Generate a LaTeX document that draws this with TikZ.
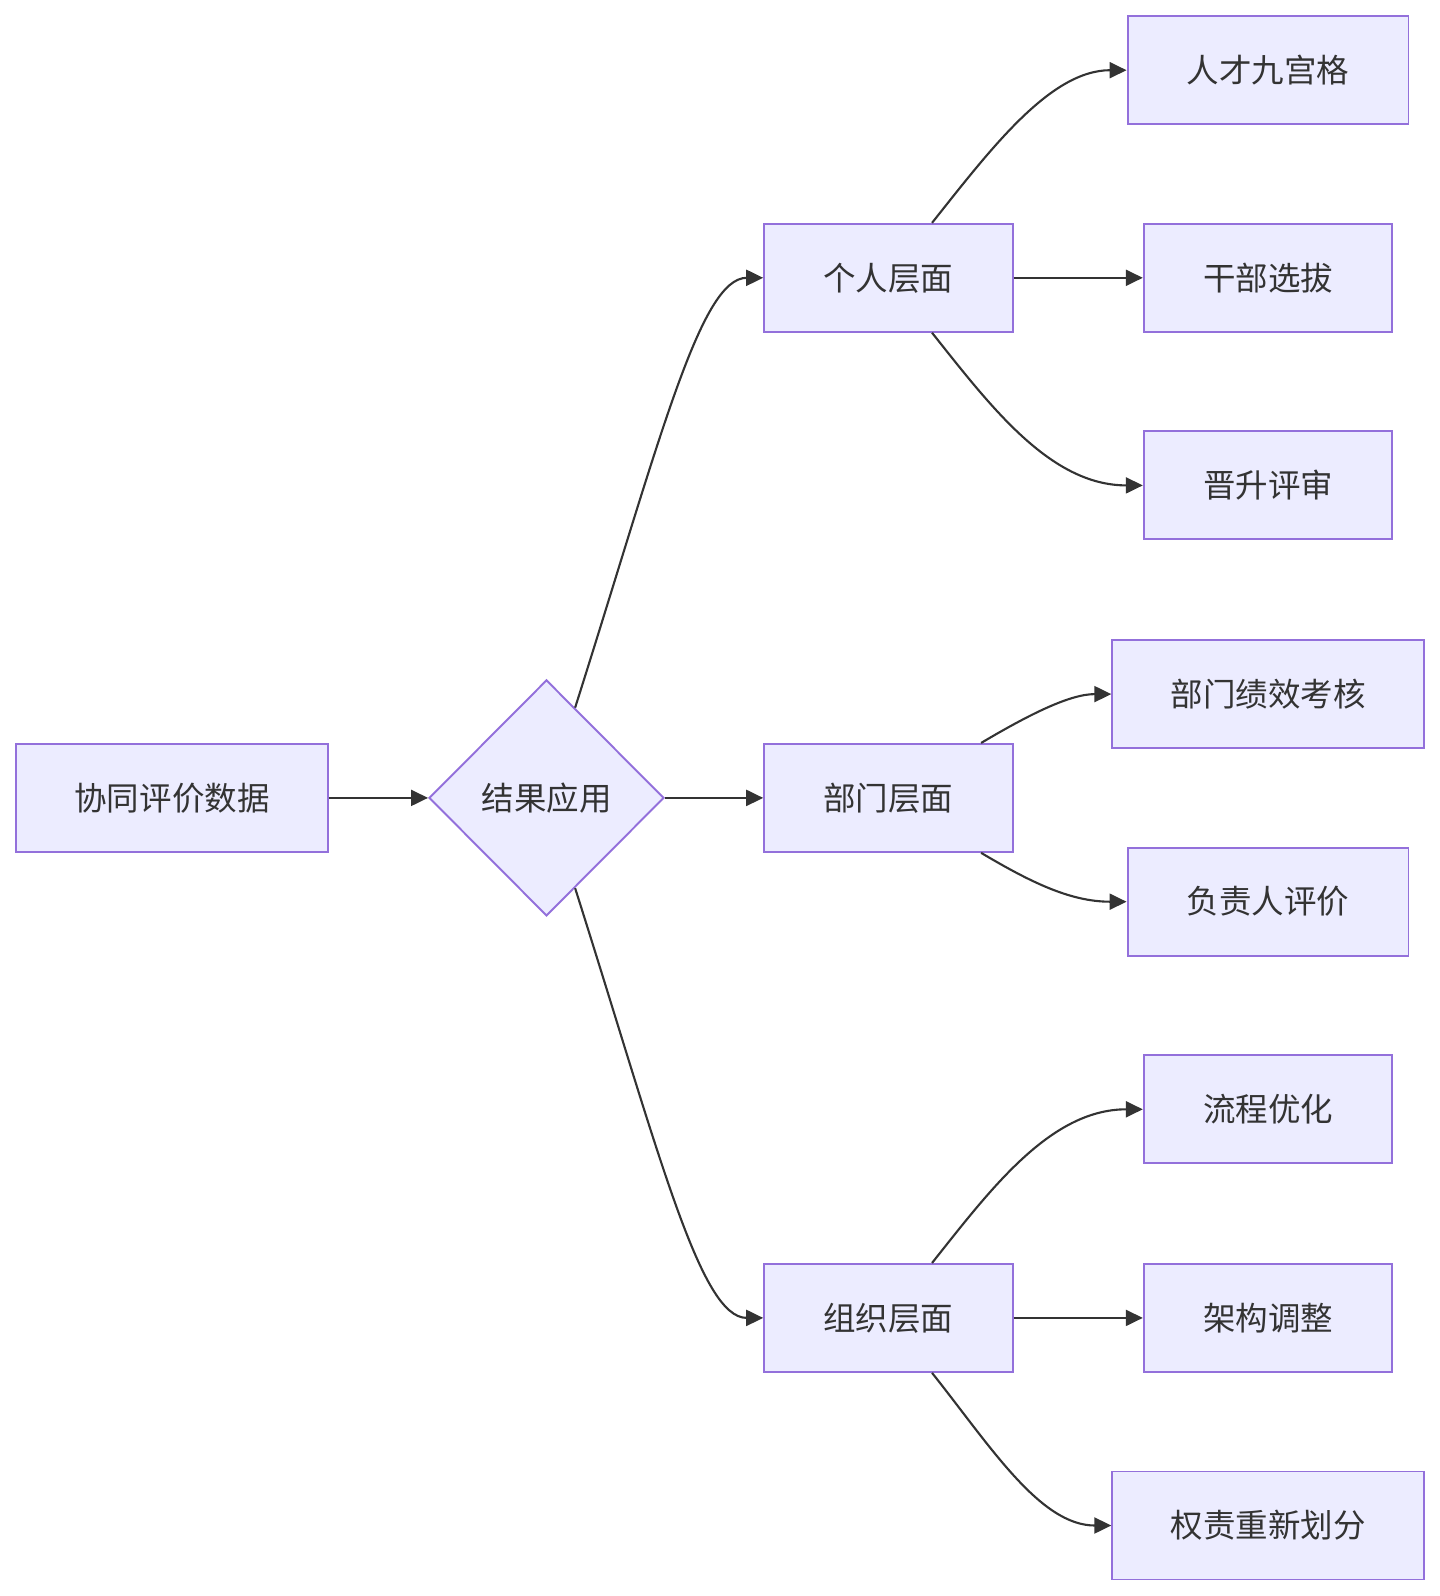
\documentclass[tikz,border=0pt]{standalone}
\usepackage{fontspec}
\newfontfamily\cjk{Noto Sans CJK SC}
\usepackage{tikz}
\usetikzlibrary{arrows.meta,shapes.geometric}
\definecolor{nodefill}{RGB}{236,236,255}
\definecolor{nodeborder}{RGB}{147,112,219}
\definecolor{linkgray}{RGB}{51,51,51}

\begin{document}
\begin{tikzpicture}[x=0.02cm,y=-0.02cm,
  box/.style={draw=nodeborder,fill=nodefill,line width=1.1pt,minimum height=2.16cm,
    inner sep=0pt,text=linkgray,font=\cjk\fontsize{18.5pt}{22pt}\selectfont},
  choice/.style={box,diamond,minimum width=4.7cm,minimum height=4.72cm},
  link/.style={draw=linkgray,line width=1.2pt,-{Triangle[length=0.34cm,width=0.32cm]}}]
  \useasboundingbox (0,0) rectangle (1440,1596);
  % source and decision
  \node[box,minimum width=6.23cm] (data) at (172,797.9) {协同评价数据};
  \node[choice] (apply) at (546.5,797.9) {结果应用};
  % three levels
  \node[box,minimum width=4.97cm] (person) at (888.4,277.8) {个人层面};
  \node[box,minimum width=4.97cm] (dept) at (888.4,797.9) {部门层面};
  \node[box,minimum width=4.97cm] (org) at (888.4,1317.9) {组织层面};
  % outcomes
  \node[box,minimum width=5.62cm] (grid) at (1268,70.2) {人才九宫格};
  \node[box,minimum width=4.97cm] (cadre) at (1268,277.8) {干部选拔};
  \node[box,minimum width=4.97cm] (promo) at (1268,485.4) {晋升评审};
  \node[box,minimum width=6.23cm] (kpi) at (1268,694.1) {部门绩效考核};
  \node[box,minimum width=5.62cm] (head) at (1268,901.7) {负责人评价};
  \node[box,minimum width=4.97cm] (flow) at (1268,1109.3) {流程优化};
  \node[box,minimum width=4.97cm] (struct) at (1268,1317.9) {架构调整};
  \node[box,minimum width=6.23cm] (duty) at (1268,1525.5) {权责重新划分};
  % links
  \draw[link] (data) -- (apply);
  \draw[link] (apply) .. controls (660,440) and (700,277.8) .. (person);
  \draw[link] (apply) -- (dept);
  \draw[link] (apply) .. controls (660,1155.8) and (700,1317.9) .. (org);
  \draw[link] (person) .. controls (990,150) and (1050,70.2) .. (grid);
  \draw[link] (person) -- (cadre);
  \draw[link] (person) .. controls (990,405.6) and (1050,485.4) .. (promo);
  \draw[link] (dept) .. controls (1030,714) and (1070,694.1) .. (kpi);
  \draw[link] (dept) .. controls (1030,881.8) and (1070,901.7) .. (head);
  \draw[link] (org) .. controls (990,1190.1) and (1050,1109.3) .. (flow);
  \draw[link] (org) -- (struct);
  \draw[link] (org) .. controls (990,1445.7) and (1040,1525.5) .. (duty);
\end{tikzpicture}
\end{document}
